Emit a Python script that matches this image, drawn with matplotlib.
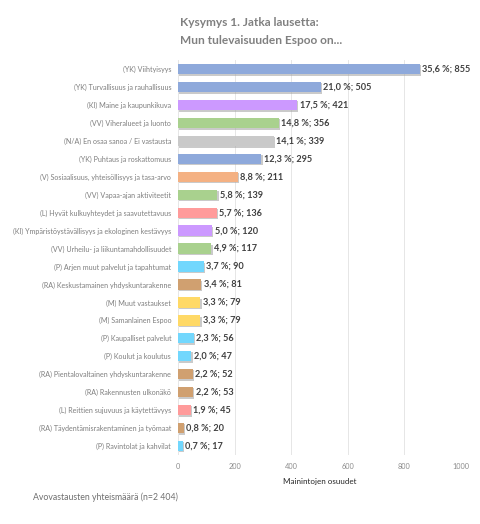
import matplotlib
matplotlib.use("Agg")
import matplotlib.pyplot as plt
import matplotlib.patheffects as pe

categories = [
    "(YK) Viihtyisyys",
    "(YK) Turvallisuus ja rauhallisuus",
    "(KI) Maine ja kaupunkikuva",
    "(VV) Viheralueet ja luonto",
    "(N/A) En osaa sanoa / Ei vastausta",
    "(YK) Puhtaus ja roskattomuus",
    "(V) Sosiaalisuus, yhteisöllisyys ja tasa-arvo",
    "(VV) Vapaa-ajan aktiviteetit",
    "(L) Hyvät kulkuyhteydet ja saavutettavuus",
    "(KI) Ympäristöystävällisyys ja ekologinen kestävyys",
    "(VV) Urheilu- ja liikuntamahdollisuudet",
    "(P) Arjen muut palvelut ja tapahtumat",
    "(RA) Keskustamainen yhdyskuntarakenne",
    "(M) Muut vastaukset",
    "(M) Samanlainen Espoo",
    "(P) Kaupalliset palvelut",
    "(P) Koulut ja koulutus",
    "(RA) Pientalovaltainen yhdyskuntarakenne",
    "(RA) Rakennusten ulkonäkö",
    "(L) Reittien sujuvuus ja käytettävyys",
    "(RA) Täydentämisrakentaminen ja työmaat",
    "(P) Ravintolat ja kahvilat",
]
counts = [855, 505, 421, 356, 339, 295, 211, 139, 136, 120, 117, 90, 81, 79, 79, 56, 47, 52, 53, 45, 20, 17]
percents = ["35,6", "21,0", "17,5", "14,8", "14,1", "12,3", "8,8", "5,8", "5,7", "5,0", "4,9",
            "3,7", "3,4", "3,3", "3,3", "2,3", "2,0", "2,2", "2,2", "1,9", "0,8", "0,7"]
groups = ["YK", "YK", "KI", "VV", "N/A", "YK", "V", "VV", "L", "KI", "VV",
          "P", "RA", "M", "M", "P", "P", "RA", "RA", "L", "RA", "P"]
group_colors = {
    "YK": "#8EA9DB", "KI": "#CC99FF", "VV": "#A9D18E", "N/A": "#C9C9C9",
    "V": "#F4B183", "L": "#FF9B9B", "P": "#72D7FD", "RA": "#D0A070", "M": "#FFD966",
}
xticks = [0, 200, 400, 600, 800, 1000]

plt.rcParams['font.family'] = ['Lato', 'DejaVu Sans']

fig = plt.figure(figsize=(4.8, 5.24), dpi=100)
ax = fig.add_axes([0.371, 0.132, 0.589, 0.753])

ypos = list(range(len(categories)))
bars = ax.barh(ypos, counts, height=0.58,
               color=[group_colors[g] for g in groups], zorder=3)
for b in bars:
    b.set_path_effects([pe.SimplePatchShadow(offset=(1, -1), shadow_rgbFace="#a0a0a0", alpha=0.55),
                        pe.Normal()])

for y, c, p in zip(ypos, counts, percents):
    ax.text(c + 9, y, f"{p} %; {c}", va="center", ha="left",
            fontsize=6.6, fontweight="bold", color="#404040", zorder=4)

ax.set_ylim(len(categories) - 0.5, -0.5)
ax.set_xlim(0, 1000)
ax.set_yticks(ypos)
ax.set_yticklabels(categories, fontsize=5.1, color="#7f7f7f")
ax.set_xticks(xticks)
ax.set_xticklabels([str(t) for t in xticks], fontsize=5.3, color="#8c8c8c")
ax.tick_params(axis="both", length=0, pad=5)
ax.tick_params(axis="x", pad=6)
ax.grid(axis="x", color="#e6e6e6", linewidth=0.7, zorder=0)
for s in ax.spines.values():
    s.set_visible(False)
ax.set_xlabel("Mainintojen osuudet", fontsize=5.8, color="#262626", labelpad=6)

fig.text(180 / 480, 1 - 22 / 524, "Kysymys 1. Jatka lausetta:", fontsize=8.6,
         fontweight="bold", color="#808080", va="center", ha="left")
fig.text(180 / 480, 1 - 41 / 524, "Mun tulevaisuuden Espoo on...", fontsize=8.6,
         fontweight="bold", color="#808080", va="center", ha="left")
fig.text(33 / 480, 1 - 497 / 524, "Avovastausten yhteismäärä (n=2 404)", fontsize=6.3,
         color="#6f6f6f", va="center", ha="left")

fig.savefig("out.png", dpi=100, facecolor="white")
